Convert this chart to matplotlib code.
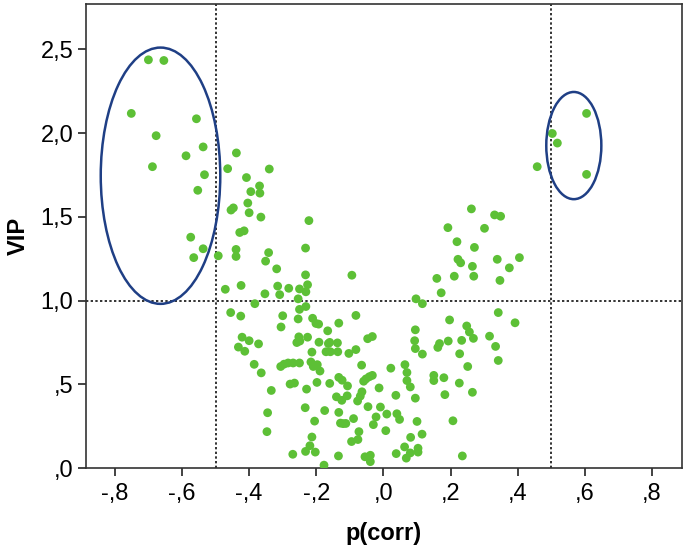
import matplotlib
matplotlib.use("Agg")
import matplotlib.pyplot as plt
from matplotlib.patches import Ellipse

plt.rcParams['font.family'] = ['Liberation Sans', 'DejaVu Sans']

# ---- data (p(corr), VIP) ----
p_corr = [
    -0.700, -0.654, -0.751, -0.557, -0.677, -0.537, -0.588, -0.688, -0.533, -0.553, -0.574, -0.537, -0.565,
    0.605, 0.503, 0.518, 0.605, 0.458,
    -0.492, -0.438, -0.464, -0.340, -0.408, -0.369, -0.395, -0.368, -0.404, -0.454, -0.447, -0.400, -0.365,
    -0.428, -0.415, -0.439, -0.439, -0.342, -0.351, -0.318, -0.232, -0.222, -0.471, -0.424, -0.315, -0.309,
    -0.282, -0.353, -0.250, -0.232, -0.226, -0.231, -0.254, -0.094, -0.383, -0.455, -0.425, -0.300, -0.305,
    -0.250, -0.231, -0.254, -0.211, -0.201, -0.193, -0.133, -0.082, -0.166, -0.421, -0.400, -0.372, -0.432,
    -0.413, -0.252, -0.258, -0.249, -0.226, -0.192, -0.164, -0.160, -0.171, -0.158, -0.137, -0.136, -0.213,
    -0.103, -0.082, -0.047, -0.033, -0.385, -0.364, -0.306, -0.284, -0.269, -0.250, -0.296, -0.216, -0.209,
    -0.197, -0.189, -0.278, -0.265, -0.229, -0.198, -0.334, -0.160, -0.133, -0.123, -0.107, -0.065, -0.059,
    -0.052, -0.033, -0.042, -0.013, -0.064, -0.069, -0.077, -0.140, -0.124, -0.108, -0.046, -0.009, -0.233,
    -0.345, -0.347, -0.175, -0.133, -0.205, -0.120, -0.128, -0.112, -0.089, -0.022, 0.010, -0.030, 0.040,
    0.048, 0.007, -0.213, -0.073, -0.076, -0.095, -0.219, -0.232, -0.203, -0.270, -0.134, -0.177, -0.055,
    -0.039, -0.039, 0.038, 0.063, 0.068, 0.080, 0.103, 0.103, 0.081, 0.115, 0.100, 0.207, 0.235,
    0.095, 0.080, 0.070, 0.070, 0.064, 0.022, 0.037, 0.093, 0.095, 0.116, 0.095, 0.097, 0.116, 0.159,
    0.172, 0.162, 0.167, 0.193, 0.197, 0.150, 0.150, 0.180, 0.183, 0.211, 0.192, 0.219, 0.222, 0.230,
    0.265, 0.269, 0.262, 0.271, 0.301, 0.331, 0.349, 0.339, 0.375, 0.347, 0.405, 0.342, 0.392, 0.248,
    0.256, 0.268, 0.233, 0.227, 0.316, 0.334, 0.342, 0.251, 0.226, 0.265,
]
vip = [
    2.437, 2.433, 2.117, 2.085, 1.984, 1.917, 1.864, 1.799, 1.751, 1.658, 1.378, 1.309, 1.256,
    2.117, 1.997, 1.940, 1.753, 1.799,
    1.267, 1.881, 1.787, 1.785, 1.734, 1.684, 1.650, 1.641, 1.582, 1.540, 1.553, 1.524, 1.498,
    1.406, 1.416, 1.305, 1.263, 1.286, 1.235, 1.189, 1.313, 1.477, 1.067, 1.090, 1.086, 1.035,
    1.073, 1.040, 1.069, 1.153, 1.094, 1.052, 1.010, 1.151, 0.981, 0.928, 0.907, 0.909, 0.842,
    0.947, 0.964, 0.890, 0.894, 0.863, 0.859, 0.865, 0.911, 0.819, 0.781, 0.760, 0.741, 0.722,
    0.697, 0.783, 0.749, 0.758, 0.781, 0.751, 0.743, 0.750, 0.694, 0.694, 0.747, 0.694, 0.692,
    0.684, 0.707, 0.772, 0.785, 0.619, 0.568, 0.606, 0.627, 0.627, 0.627, 0.620, 0.633, 0.606,
    0.617, 0.579, 0.501, 0.507, 0.471, 0.511, 0.463, 0.505, 0.541, 0.524, 0.490, 0.614, 0.518,
    0.532, 0.553, 0.545, 0.478, 0.455, 0.429, 0.400, 0.425, 0.404, 0.431, 0.366, 0.364, 0.360,
    0.330, 0.217, 0.343, 0.332, 0.280, 0.265, 0.268, 0.266, 0.295, 0.305, 0.322, 0.259, 0.324,
    0.290, 0.223, 0.185, 0.217, 0.170, 0.158, 0.133, 0.099, 0.095, 0.082, 0.072, 0.017, 0.067,
    0.076, 0.038, 0.086, 0.126, 0.059, 0.090, 0.118, 0.095, 0.183, 0.202, 0.278, 0.282, 0.072,
    0.417, 0.484, 0.522, 0.570, 0.617, 0.596, 0.434, 0.760, 0.713, 0.680, 0.825, 1.010, 0.981, 1.132,
    1.046, 0.720, 0.743, 0.758, 0.884, 0.553, 0.522, 0.539, 0.438, 1.145, 1.435, 1.351, 1.246, 1.225,
    1.204, 1.145, 1.547, 1.317, 1.431, 1.511, 1.503, 1.246, 1.195, 1.120, 1.256, 0.928, 0.867, 0.848,
    0.812, 0.774, 0.762, 0.682, 0.787, 0.726, 0.642, 0.606, 0.507, 0.452,
]

xticks = [-0.8, -0.6, -0.4, -0.2, 0.0, 0.2, 0.4, 0.6, 0.8]
xtick_labels = ["-,8", "-,6", "-,4", "-,2", ",0", ",2", ",4", ",6", ",8"]
yticks = [0.0, 0.5, 1.0, 1.5, 2.0, 2.5]
ytick_labels = [",0", ",5", "1,0", "1,5", "2,0", "2,5"]

vip_threshold = 1.0
pcorr_thresholds = [-0.5, 0.5]

# highlighted groups: (center x, center y, width, height)
groups = [(-0.664, 1.745, 0.356, 1.53), (0.567, 1.925, 0.164, 0.64)]

fig = plt.figure(figsize=(6.85, 5.53), dpi=100)
ax = fig.add_axes([0.1255, 0.1537, 0.8700, 0.8390])

ax.scatter(p_corr, vip, s=40, color='#5dc036', edgecolors='none', zorder=3)

ax.axhline(vip_threshold, color='#333333', linestyle=(0, (1.2, 1.2)), lw=1.4, zorder=2)
for xv in pcorr_thresholds:
    ax.axvline(xv, color='#333333', linestyle=(0, (1.2, 1.2)), lw=1.4, zorder=2)

for cx, cy, w, h in groups:
    ax.add_patch(Ellipse((cx, cy), w, h, fill=False, edgecolor='#1f3f85', lw=1.8, zorder=4))

ax.set_xlim(-0.886, 0.889)
ax.set_ylim(0, 2.77)
ax.set_xticks(xticks)
ax.set_xticklabels(xtick_labels)
ax.set_yticks(yticks)
ax.set_yticklabels(ytick_labels)
ax.tick_params(axis='both', direction='out', length=6, width=1.2, labelsize=17, color='#222222')
ax.tick_params(axis='x', pad=5)
ax.tick_params(axis='y', pad=3)

for sp in ax.spines.values():
    sp.set_linewidth(1.2)
    sp.set_color('#333333')

ax.set_xlabel("p(corr)", fontsize=17, fontweight='bold', labelpad=12)
ax.set_ylabel("VIP", fontsize=17, fontweight='bold', labelpad=8)

fig.savefig("out.png", dpi=100)
